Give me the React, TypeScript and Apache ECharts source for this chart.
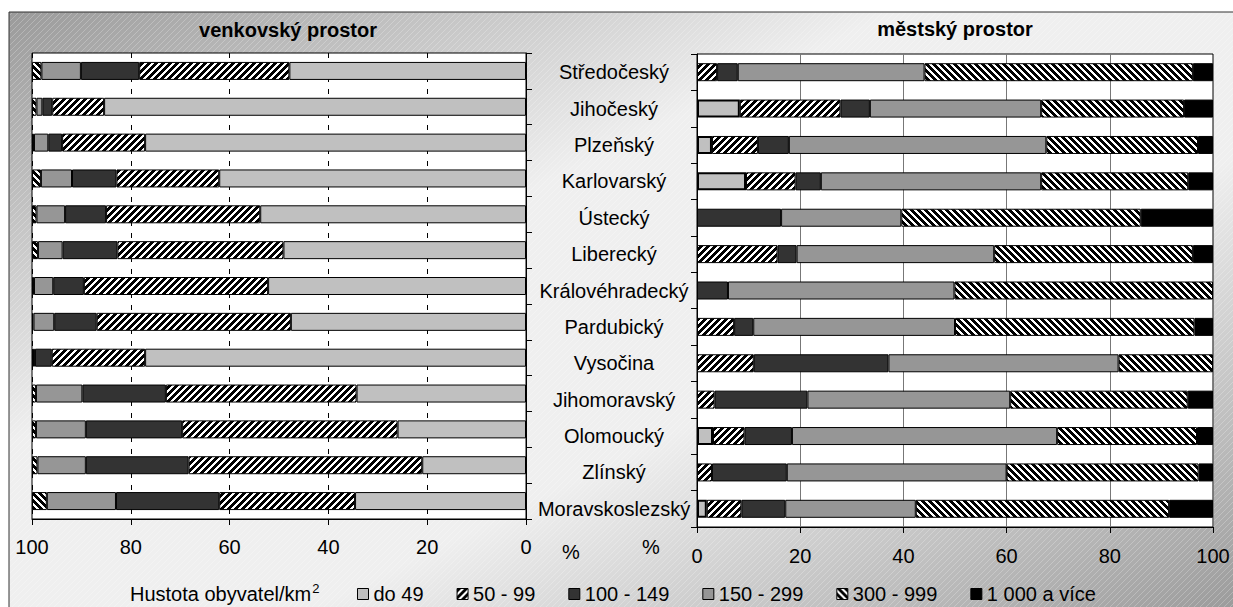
import React, { useEffect, useRef } from 'react';
import * as echarts from 'echarts';

// Categories (kraje)
const regions = [
  'Středočeský', 'Jihočeský', 'Plzeňský', 'Karlovarský', 'Ústecký', 'Liberecký',
  'Královéhradecký', 'Pardubický', 'Vysočina', 'Jihomoravský', 'Olomoucký', 'Zlínský', 'Moravskoslezský',
];
const densityClasses = ['do 49', '50 - 99', '100 - 149', '150 - 299', '300 - 999', '1 000 a více'];
const axisTicks = [0, 20, 40, 60, 80, 100];

// venkovský prostor (%)
const ruralDo49 = [47.9, 85.4, 77.1, 62.1, 53.8, 49.1, 52.2, 47.6, 77.1, 34.3, 26.0, 21.0, 34.6];
const rural50to99 = [30.4, 10.5, 16.8, 20.8, 31.2, 33.6, 37.3, 39.3, 18.9, 38.6, 43.6, 47.3, 27.5];
const rural100to149 = [11.8, 2.0, 2.8, 9.0, 8.3, 11.1, 6.2, 8.6, 3.4, 16.9, 19.5, 20.8, 20.9];
const rural150to299 = [8.0, 1.2, 2.9, 6.3, 5.8, 5.0, 3.9, 4.2, 0.4, 9.4, 10.1, 9.8, 14.0];
const rural300to999 = [1.9, 0.9, 0.4, 1.8, 0.9, 1.2, 0.4, 0.3, 0.2, 0.8, 0.8, 1.1, 3.0];
const rural1000plus = [0, 0, 0, 0, 0, 0, 0, 0, 0, 0, 0, 0, 0];

// městský prostor (%)
const urbanDo49 = [0, 8.3, 2.9, 9.5, 0, 0, 0, 0, 0, 0, 3.1, 0, 1.9];
const urban50to99 = [3.9, 19.5, 8.9, 9.6, 0, 15.6, 0, 7.2, 11.0, 3.4, 6.1, 2.9, 6.7];
const urban100to149 = [4.0, 5.7, 6.0, 4.9, 16.3, 3.7, 6.0, 3.7, 26.1, 18.0, 9.2, 14.5, 8.5];
const urban150to299 = [36.2, 33.2, 49.9, 42.7, 23.3, 38.3, 43.9, 39.1, 44.6, 39.3, 51.4, 42.6, 25.3];
const urban300to999 = [52.0, 27.7, 29.4, 28.5, 46.4, 38.5, 50.1, 46.4, 18.3, 34.4, 27.1, 37.2, 49.1];
const urban1000plus = [3.9, 5.6, 2.9, 4.8, 14.0, 3.9, 0, 3.6, 0, 4.9, 3.1, 2.8, 8.5];

const FONT = '"Liberation Sans", Arial, Helvetica, sans-serif';

function makeHatch(forward: boolean, period = 7, black = 4): HTMLCanvasElement {
  const c = document.createElement('canvas');
  c.width = period;
  c.height = period;
  const ctx = c.getContext('2d')!;
  const img = ctx.createImageData(period, period);
  for (let y = 0; y < period; y++) {
    for (let x = 0; x < period; x++) {
      const k = forward ? (x + y) % period : (((x - y) % period) + period) % period;
      const v = k < black ? 0 : 255;
      const i = (y * period + x) * 4;
      img.data[i] = v;
      img.data[i + 1] = v;
      img.data[i + 2] = v;
      img.data[i + 3] = 255;
    }
  }
  ctx.putImageData(img, 0, 0);
  return c;
}

function makeTexture(): HTMLCanvasElement {
  const p = 6;
  const c = document.createElement('canvas');
  c.width = p;
  c.height = p;
  const ctx = c.getContext('2d')!;
  const img = ctx.createImageData(p, p);
  for (let y = 0; y < p; y++) {
    for (let x = 0; x < p; x++) {
      const i = (y * p + x) * 4;
      const on = (x + y) % p === 0;
      img.data[i] = 255;
      img.data[i + 1] = 255;
      img.data[i + 2] = 255;
      img.data[i + 3] = on ? 60 : 0;
    }
  }
  ctx.putImageData(img, 0, 0);
  return c;
}

export default function App() {
  const ref = useRef<HTMLDivElement>(null);

  useEffect(() => {
    if (!ref.current) return;
    const chart = echarts.init(ref.current, null, { renderer: 'svg' });

    const fwd = { image: makeHatch(true), repeat: 'repeat' };
    const back = { image: makeHatch(false), repeat: 'repeat' };
    const fills: any[] = ['#c0c0c0', fwd, '#333333', '#969696', back, '#000000'];

    const ruralSets = [ruralDo49, rural50to99, rural100to149, rural150to299, rural300to999, rural1000plus];
    const urbanSets = [urbanDo49, urban50to99, urban100to149, urban150to299, urban300to999, urban1000plus];

    const mk = (name: string, data: number[], idx: number, fill: any, bw: number) => ({
      type: 'bar',
      name,
      stack: idx === 0 ? 'rural' : 'urban',
      xAxisIndex: idx,
      yAxisIndex: idx,
      barWidth: 18,
      data: data.map((v) => (v === 0 ? '-' : v)),
      itemStyle: { color: fill, borderColor: '#000', borderWidth: bw },
      emphasis: { disabled: true },
      silent: true,
    });

    const series: any[] = [];
    densityClasses.forEach((n, i) => series.push(mk(n, ruralSets[i], 0, fills[i], 1)));
    densityClasses.forEach((n, i) => series.push(mk(n, urbanSets[i], 1, fills[i], i === 0 ? 2 : 1)));

    const valueAxis = (idx: number, inverse: boolean, split: any, margin: number) => ({
      type: 'value',
      gridIndex: idx,
      min: axisTicks[0],
      max: axisTicks[axisTicks.length - 1],
      interval: axisTicks[1] - axisTicks[0],
      inverse,
      axisLine: { show: true, lineStyle: { color: '#000', width: 1 } },
      axisTick: { show: true, length: 6, lineStyle: { color: '#000' } },
      axisLabel: { fontSize: 20, color: '#000', fontFamily: FONT, margin },
      splitLine: { show: true, lineStyle: split },
    });

    const option: any = {
      animation: false,
      graphic: [
        {
          type: 'rect',
          z: -100,
          shape: { x: 9, y: 12, width: 1230, height: 600 },
          style: {
            fill: new echarts.graphic.LinearGradient(0, 0, 1, 1, [
              { offset: 0, color: '#9a9a9a' },
              { offset: 0.36, color: '#efefef' },
              { offset: 0.62, color: '#efefef' },
              { offset: 1, color: '#9a9a9a' },
            ]),
            stroke: '#333',
            lineWidth: 1,
          },
          silent: true,
        },
        {
          type: 'rect',
          z: -99,
          shape: { x: 10, y: 13, width: 1228, height: 598 },
          style: { fill: { image: makeTexture(), repeat: 'repeat' } as any },
          silent: true,
        },
        {
          type: 'text',
          x: 288,
          y: 30,
          style: { text: 'venkovský prostor', font: `bold 20px ${FONT}`, fill: '#000', align: 'center', verticalAlign: 'middle' },
        },
        {
          type: 'text',
          x: 955,
          y: 29,
          style: { text: 'městský prostor', font: `bold 20px ${FONT}`, fill: '#000', align: 'center', verticalAlign: 'middle' },
        },
        {
          type: 'text',
          x: 562,
          y: 552,
          style: { text: '%', font: `20px ${FONT}`, fill: '#000', align: 'left', verticalAlign: 'middle' },
        },
        {
          type: 'text',
          x: 642,
          y: 547,
          style: { text: '%', font: `20px ${FONT}`, fill: '#000', align: 'left', verticalAlign: 'middle' },
        },
        {
          type: 'text',
          x: 130,
          y: 594,
          style: {
            text: '{a|Hustota obyvatel/km}{s|2}',
            fill: '#000',
            align: 'left',
            verticalAlign: 'middle',
            rich: {
              a: { fontSize: 20, fontFamily: FONT, fill: '#000' },
              s: { fontSize: 13, fontFamily: FONT, fill: '#000', padding: [0, 0, 12, 1] },
            },
          },
        },
      ],
      legend: {
        left: 357,
        top: 583,
        padding: 0,
        itemWidth: 11,
        itemHeight: 11,
        itemGap: 33,
        icon: 'rect',
        selectedMode: false,
        data: densityClasses,
        itemStyle: { borderColor: '#000', borderWidth: 1 },
        textStyle: { fontSize: 20, lineHeight: 22, color: '#000', fontFamily: FONT },
      },
      grid: [
        { left: 32, top: 53, width: 494, height: 466, show: true, backgroundColor: '#fff', borderColor: '#000', borderWidth: 1 },
        { left: 697, top: 54, width: 516, height: 473, show: true, backgroundColor: '#fff', borderColor: '#000', borderWidth: 1 },
      ],
      xAxis: [
        valueAxis(0, true, { color: '#000', width: 1, type: [5, 7] }, 18),
        valueAxis(1, false, { color: '#777', width: 1, type: 'solid' }, 19),
      ],
      yAxis: [
        {
          type: 'category',
          gridIndex: 0,
          data: regions,
          inverse: true,
          position: 'right',
          axisLine: { show: true, lineStyle: { color: '#000' } },
          axisTick: { show: true, length: 6, lineStyle: { color: '#000' } },
          axisLabel: { show: false },
          splitLine: { show: false },
        },
        {
          type: 'category',
          gridIndex: 1,
          data: regions,
          inverse: true,
          position: 'left',
          axisLine: { show: true, lineStyle: { color: '#000' } },
          axisTick: { show: true, length: 6, lineStyle: { color: '#000' } },
          axisLabel: { fontSize: 20, color: '#000', fontFamily: FONT, align: 'center', margin: 83 },
          splitLine: { show: false },
        },
      ],
      series,
    };

    chart.setOption(option);
    return () => chart.dispose();
  }, []);

  return (
    <div
      ref={ref}
      style={{ position: 'absolute', left: 0, top: 0, width: 1233, height: 607 }}
    />
  );
}
